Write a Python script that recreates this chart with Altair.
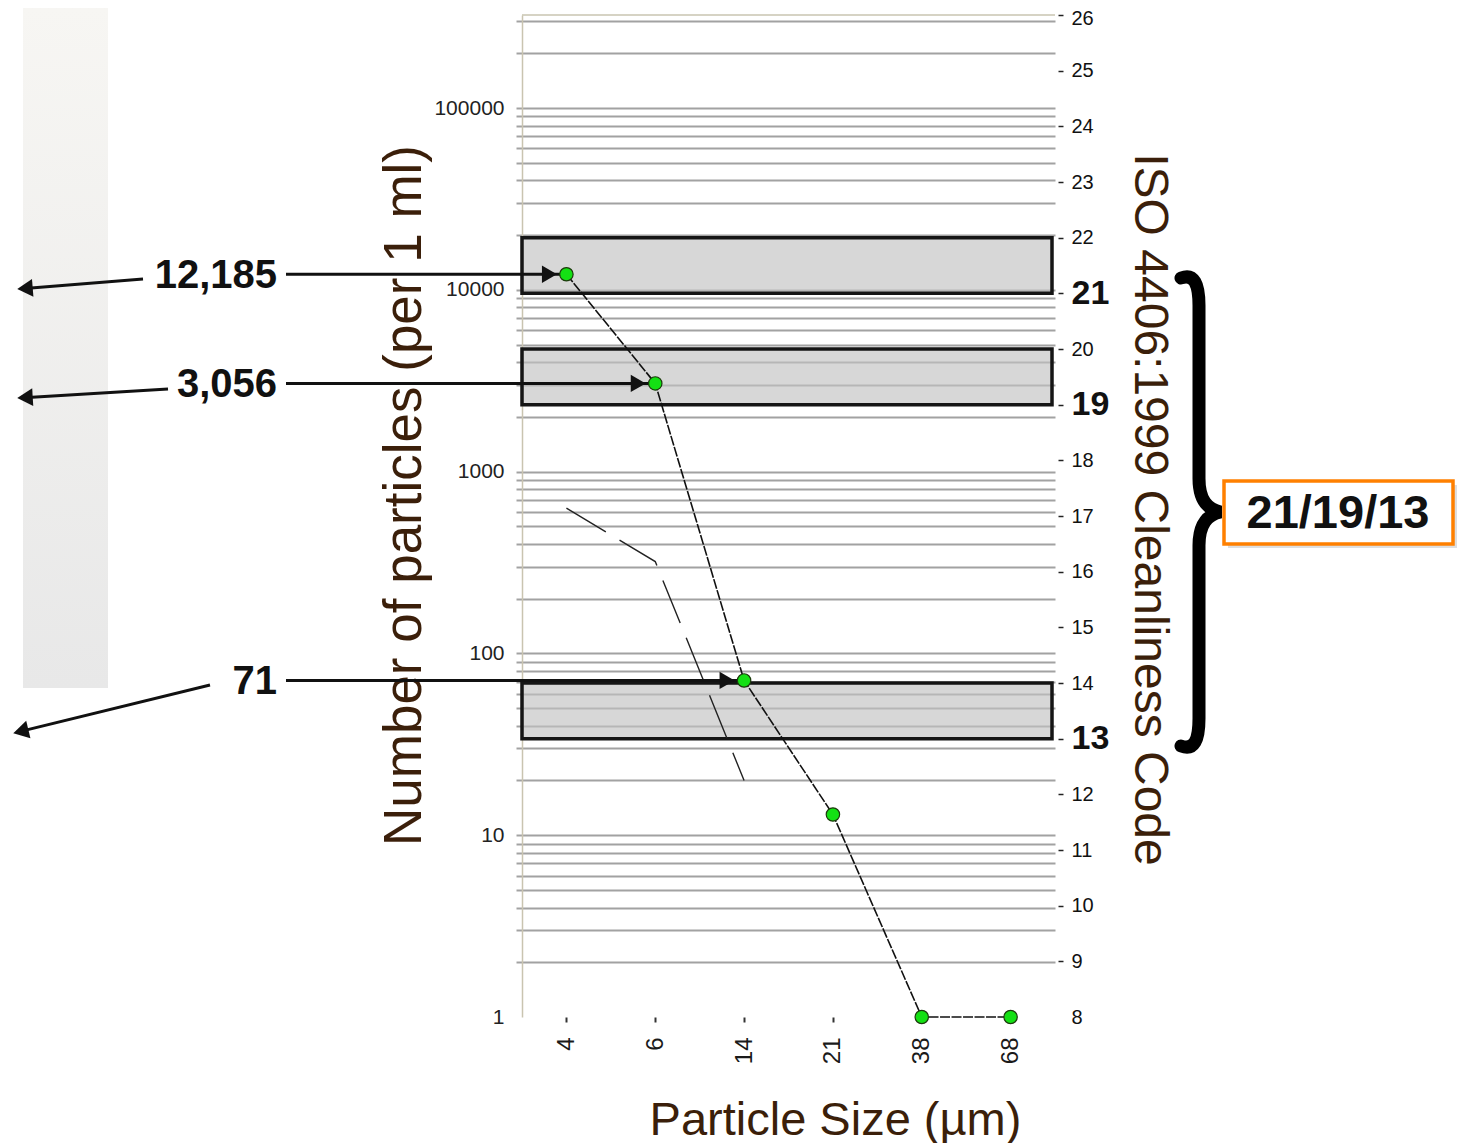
import altair as alt
import pandas as pd
import math

# ---------------- data ----------------
sizes = ["4", "6", "14", "21", "38", "68"]
counts = [12185, 3056, 71, 13, 1, 1]
ref_sizes = ["4", "6", "14"]
ref_counts = [630, 320, 20]
annotated_sizes = ["4", "6", "14"]
iso_codes = [21, 19, 13]
code_ticks = [8, 9, 10, 11, 12, 13, 14, 15, 16, 17, 18, 19, 20, 21, 22, 23, 24, 25, 26]
top_code = [26]
count_labels = [1, 10, 100, 1000, 10000, 100000]
count_ticks = [
    1, 2, 3, 4, 5, 6, 7, 8, 9,
    10, 20, 30, 40, 50, 60, 70, 80, 90,
    100, 200, 300, 400, 500, 600, 700, 800, 900,
    1000, 2000, 3000, 4000, 5000, 6000, 7000, 8000, 9000,
    10000, 20000, 30000, 40000, 50000, 60000, 70000, 80000, 90000,
    100000, 200000, 300000,
]

# ---------------- styles ----------------
W, H = 533, 1002
PX, PY = 522, 15          # page position of plot origin (for decorations)
BROWN = "#3b1f0a"
FONT = "Liberation Sans"
GRID = "#a2a2a2"
FRAME = "#c9c4b0"

df = pd.DataFrame({"size": sizes, "count": counts})
ref_df = pd.DataFrame({"size": ref_sizes, "count": ref_counts})
one = pd.DataFrame({"k": [0]})

x_axis = alt.Axis(
    title="Particle Size (µm)", domain=False, grid=False,
    labelAngle=270, labelAlign="right", labelBaseline="middle",
    labelFont=FONT, labelFontSize=24, labelColor="#1a1a1a", labelPadding=15,
    tickSize=5, tickWidth=2, tickColor="#333333",
    titleFont=FONT, titleFontSize=47, titleFontWeight="normal", titleColor=BROWN,
    titleX=313, titleY=117, titleAlign="center", titleBaseline="alphabetic", titleAngle=0,
    labelOverlap=False,
)
x_enc = alt.X("size:N", scale=alt.Scale(type="point", domain=sizes, padding=0.5), axis=x_axis)

label_list = "[" + ",".join(str(v) for v in count_labels) + "]"
hide_one = {"condition": {"test": "datum.value <= 1", "value": "transparent"}, "value": GRID}
y_axis = alt.Axis(
    orient="left", values=count_ticks,
    labelExpr="indexof(" + label_list + ", datum.value) >= 0 ? format(datum.value, 'd') : ''",
    grid=True, gridColor=hide_one, gridWidth=2,
    tickColor=hide_one, tickSize=6, tickWidth=2,
    domainColor=FRAME, domainWidth=1.5,
    labelFont=FONT, labelFontSize=21, labelColor="#222222", labelPadding=12, labelOverlap=False,
    title="Number of particles (per 1 ml)", titleFont=FONT, titleFontSize=53,
    titleFontWeight="normal", titleColor=BROWN, titleAngle=270,
    titleX=-102, titleY=480, titleAlign="center", titleBaseline="alphabetic",
)
y_enc = alt.Y("count:Q", scale=alt.Scale(type="log", domain=[1, 325000], nice=False), axis=y_axis)

bold_test = " || ".join("datum.value == %d" % c for c in iso_codes)
right_axis = alt.Axis(
    orient="right", values=code_ticks, domain=False, grid=False, offset=3,
    tickSize=5, tickWidth=1.5,
    tickColor={"condition": {"test": "datum.value == 8", "value": "transparent"}, "value": "#222222"},
    labelFont=FONT, labelColor="#111111", labelPadding=8,
    labelFontSize={"condition": {"test": bold_test, "value": 34}, "value": 20},
    labelFontWeight={"condition": {"test": bold_test, "value": "bold"}, "value": "normal"},
    labelOffset={"condition": {"test": "datum.value == 26", "value": 3}, "value": 0},
    title="ISO 4406:1999 Cleanliness Code",
    titleFont=FONT, titleFontSize=48,
    titleFontWeight="normal", titleColor=BROWN, titleAngle=90,
    titleX=76, titleY=494, titleAlign="center", titleBaseline="alphabetic",
)
code_enc = alt.Y("code:Q", scale=alt.Scale(domain=[8, 26], nice=False, zero=False), axis=right_axis)

# ---------------- layer B: ISO code scale ----------------
band = alt.Chart(one).mark_rect(
    fill={"gradient": "linear", "x1": 0, "y1": 0, "x2": 0, "y2": 1,
          "stops": [{"offset": 0, "color": "#f7f6f3"}, {"offset": 1, "color": "#e8e8e8"}]}
).encode(x=alt.value(23 - PX), x2=alt.value(108 - PX), y=alt.value(-7), y2=alt.value(688 - PY))

boxes = alt.Chart(pd.DataFrame({"code": iso_codes})).transform_calculate(
    code_hi="datum.code + 1"
).mark_rect(fill="#c2c2c2", fillOpacity=0.65, stroke="#151515", strokeWidth=3.5).encode(
    x=alt.value(0), x2=alt.value(530), y=code_enc, y2="code_hi:Q"
)

top_rule = alt.Chart(pd.DataFrame({"code": top_code})).mark_rule(color=FRAME, strokeWidth=1.5).encode(
    x=alt.value(0), x2=alt.value(W), y=code_enc
)

layer_b = alt.layer(band, boxes, top_rule)

# ---------------- layer A: particle counts ----------------
ref_line = alt.Chart(ref_df).mark_line(color="#222222", strokeWidth=1.4, strokeDash=[46, 16]).encode(
    x=x_enc, y=y_enc
)
main_line = alt.Chart(df).mark_line(color="#111111", strokeWidth=1.6, strokeDash=[10, 1.5]).encode(
    x=x_enc, y=y_enc
)

ann = alt.Chart(df).transform_filter(alt.FieldOneOfPredicate(field="size", oneOf=annotated_sizes))
arrow_lines = ann.mark_rule(color="#111111", strokeWidth=3).encode(
    x=x_enc, x2=alt.value(-236), y=y_enc
)
arrow_heads = ann.mark_point(shape="triangle-right", filled=True, color="#111111", size=300,
                             xOffset=-17, opacity=1).encode(x=x_enc, y=y_enc)
ann_text = ann.mark_text(align="right", baseline="middle", font=FONT, fontSize=40,
                         fontWeight="bold", color="#111111", dy=2).encode(
    x=alt.value(-245), y=y_enc, text=alt.Text("count:Q", format=",")
)

points = alt.Chart(df).mark_point(shape="circle", filled=True, fill="#14e014", stroke="#1c3a0c",
                                  strokeWidth=1.2, size=180, opacity=1).encode(x=x_enc, y=y_enc)

# decorative left arrows (page coordinates -> plot coordinates)
deco = []
for (x1, y1, x2, y2) in [(143, 279, 18, 289), (168, 389, 18, 398), (210, 685, 14, 733)]:
    dx, dy = x2 - x1, y2 - y1
    L = math.hypot(dx, dy)
    ux, uy = dx / L, dy / L
    ang = (math.degrees(math.atan2(dx, -dy)) + 360) % 360
    deco.append(alt.Chart(one).mark_rule(color="#111111", strokeWidth=3).encode(
        x=alt.value(x1 - PX), y=alt.value(y1 - PY),
        x2=alt.value(x2 - 10 * ux - PX), y2=alt.value(y2 - 10 * uy - PY)))
    deco.append(alt.Chart(one).mark_point(shape="triangle-up", filled=True, color="#111111",
                                          size=320, angle=ang, opacity=1).encode(
        x=alt.value(x2 - 7 * ux - PX), y=alt.value(y2 - 7 * uy - PY)))

brace_path = ("M -0.075 -0.975 C -0.02 -0.995 0.0 -0.95 0.0 -0.86 L 0.0 -0.14 "
              "C 0.0 -0.05 0.035 -0.012 0.09 0.0 C 0.035 0.012 0.0 0.05 0.0 0.14 "
              "L 0.0 0.86 C 0.0 0.95 -0.02 0.995 -0.075 0.975")
brace = alt.Chart(one).mark_point(shape=brace_path, filled=False, color="#000000", strokeWidth=13,
                                  strokeCap="round", size=480 ** 2, opacity=1).encode(
    x=alt.value(1199 - PX), y=alt.value(512 - PY)
)

shadow = alt.Chart(one).mark_rect(fill="#d0d0d0", opacity=0.7).encode(
    x=alt.value(1228 - PX), x2=alt.value(1457 - PX), y=alt.value(485 - PY), y2=alt.value(548 - PY)
)
code_box = alt.Chart(one).mark_rect(fill="#ffffff", stroke="#ff8000", strokeWidth=3.5).encode(
    x=alt.value(1224 - PX), x2=alt.value(1453 - PX), y=alt.value(481 - PY), y2=alt.value(544 - PY)
)
code_text = alt.Chart(one).mark_text(align="center", baseline="middle", font=FONT, fontSize=47,
                                     fontWeight="bold", color="#111111").encode(
    x=alt.value(1338 - PX), y=alt.value(514 - PY),
    text=alt.value("/".join(str(c) for c in iso_codes))
)

layer_a = alt.layer(ref_line, main_line, arrow_lines, arrow_heads, points, ann_text,
                    *deco, brace, shadow, code_box, code_text)

chart = alt.layer(layer_b, layer_a).resolve_scale(y="independent").properties(
    width=W, height=H,
    padding={"left": 514, "top": 7, "right": 405, "bottom": 126},
    autosize=alt.AutoSizeParams(type="none"),
    background="#ffffff",
).configure_view(strokeWidth=0)

chart.save("out.html", embed_options={"renderer": "svg", "actions": False})
